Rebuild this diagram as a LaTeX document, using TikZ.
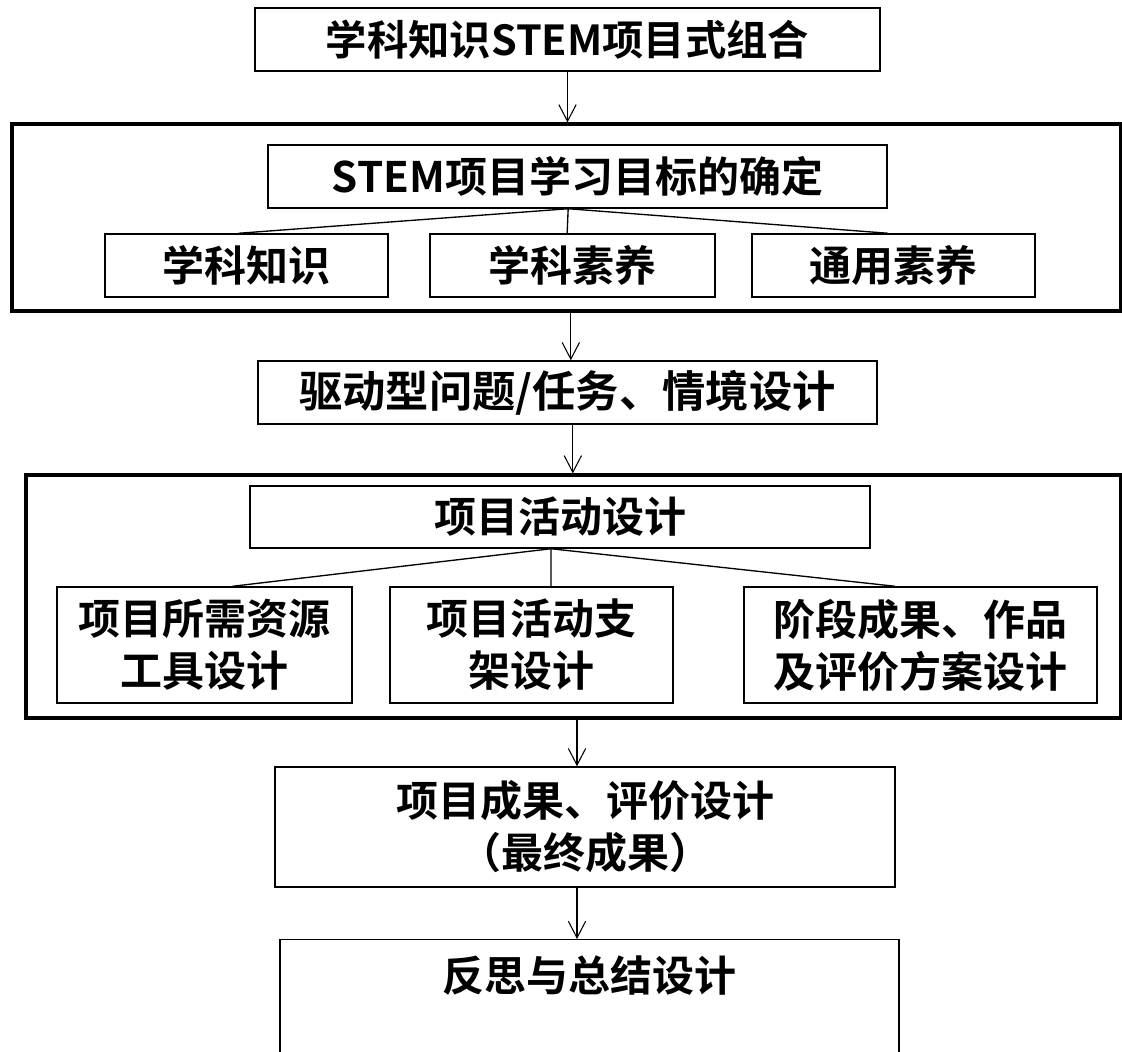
\documentclass[tikz,border=0pt]{standalone}
\usepackage{fontspec}
\setmainfont{Noto Sans CJK SC}[BoldFont={Noto Sans CJK SC Bold}]
\usetikzlibrary{arrows.meta}
\begin{document}
\begin{tikzpicture}[x=0.75pt,y=-0.75pt,
  box/.style n args={2}{draw,line width=1.1pt,inner sep=0pt,minimum width=#1*0.75pt,minimum height=#2*0.75pt,align=center,font=\bfseries\fontsize{31.5}{39}\selectfont},
  outer/.style n args={2}{draw,line width=2.4pt,inner sep=0pt,minimum width=#1*0.75pt,minimum height=#2*0.75pt},
  arr/.style={line width=0.8pt,-{Straight Barb[length=12.5pt,width=13pt]}},
  link/.style={line width=1pt}]
\useasboundingbox (0,0) rectangle (1122,1051);
\clip (0,0) rectangle (1122,1051);
\fill[white] (0,0) rectangle (1122,1051);
% outer frames
\node[outer={1109}{187}] (o2) at (566.5,217.5) {};
\node[outer={1095}{243}] (o3) at (573.5,596.5) {};
% boxes
\node[box={625}{63},font=\bfseries\fontsize{31}{36}\selectfont] (b1) at (567.5,39.5) {学科知识STEM项目式组合};
\node[box={619}{63}] (b2) at (577.5,176.5) {STEM项目学习目标的确定};
\node[box={283}{63}] (s1) at (246.5,265.5) {学科知识};
\node[box={285}{63}] (s2) at (572.5,265.5) {学科素养};
\node[box={283}{63}] (s3) at (893.5,265.5) {通用素养};
\node[box={619}{63},font=\bfseries\fontsize{32.5}{40}\selectfont] (d) at (567.5,392.5) {驱动型问题/任务、情境设计};
\node[box={620}{62}] (b3) at (560,517) {项目活动设计};
\node[box={295}{116}] (t1) at (204.5,645) {项目所需资源\\工具设计};
\node[box={283}{116}] (t2) at (531.5,645) {项目活动支\\架设计};
\node[box={353}{116}] (t3) at (920.5,645) {阶段成果、作品\\及评价方案设计};
\node[box={620}{120}] (r) at (585,827) {项目成果、评价设计\\（最终成果）};
\node[box={619}{10},anchor=north,inner ysep=6pt,text height=33pt,text depth=60pt] (f) at (589.5,939) {反思与总结设计};
% arrows
\draw[arr] (b1.south) -- (b1.south |- o2.north);
\draw[arr] ([xshift=2.5pt]d.north |- o2.south) -- ([xshift=2.5pt]d.north);
\draw[arr] ([xshift=4pt]d.south) -- ([xshift=4pt]d.south |- o3.north);
\draw[arr] ([xshift=-6pt]r.north |- o3.south) -- ([xshift=-6pt]r.north);
\draw[arr] ([xshift=-6pt]r.south) -- ([xshift=-6pt]r.south |- f.north);
% links
\draw[link] ([xshift=-7pt]b2.south) -- ([xshift=-6pt]s1.north);
\draw[link] ([xshift=-7pt]b2.south) -- ([xshift=-4pt]s2.north);
\draw[link] ([xshift=-7pt]b2.south) -- ([xshift=-4pt]s3.north);
\draw[link] ([xshift=-6.75pt]b3.south) -- ([xshift=21pt]t1.north);
\draw[link] ([xshift=-6.75pt]b3.south) -- ([xshift=14.6pt]t2.north);
\draw[link] ([xshift=-6.75pt]b3.south) -- ([xshift=-19pt]t3.north);
\end{tikzpicture}
\end{document}
